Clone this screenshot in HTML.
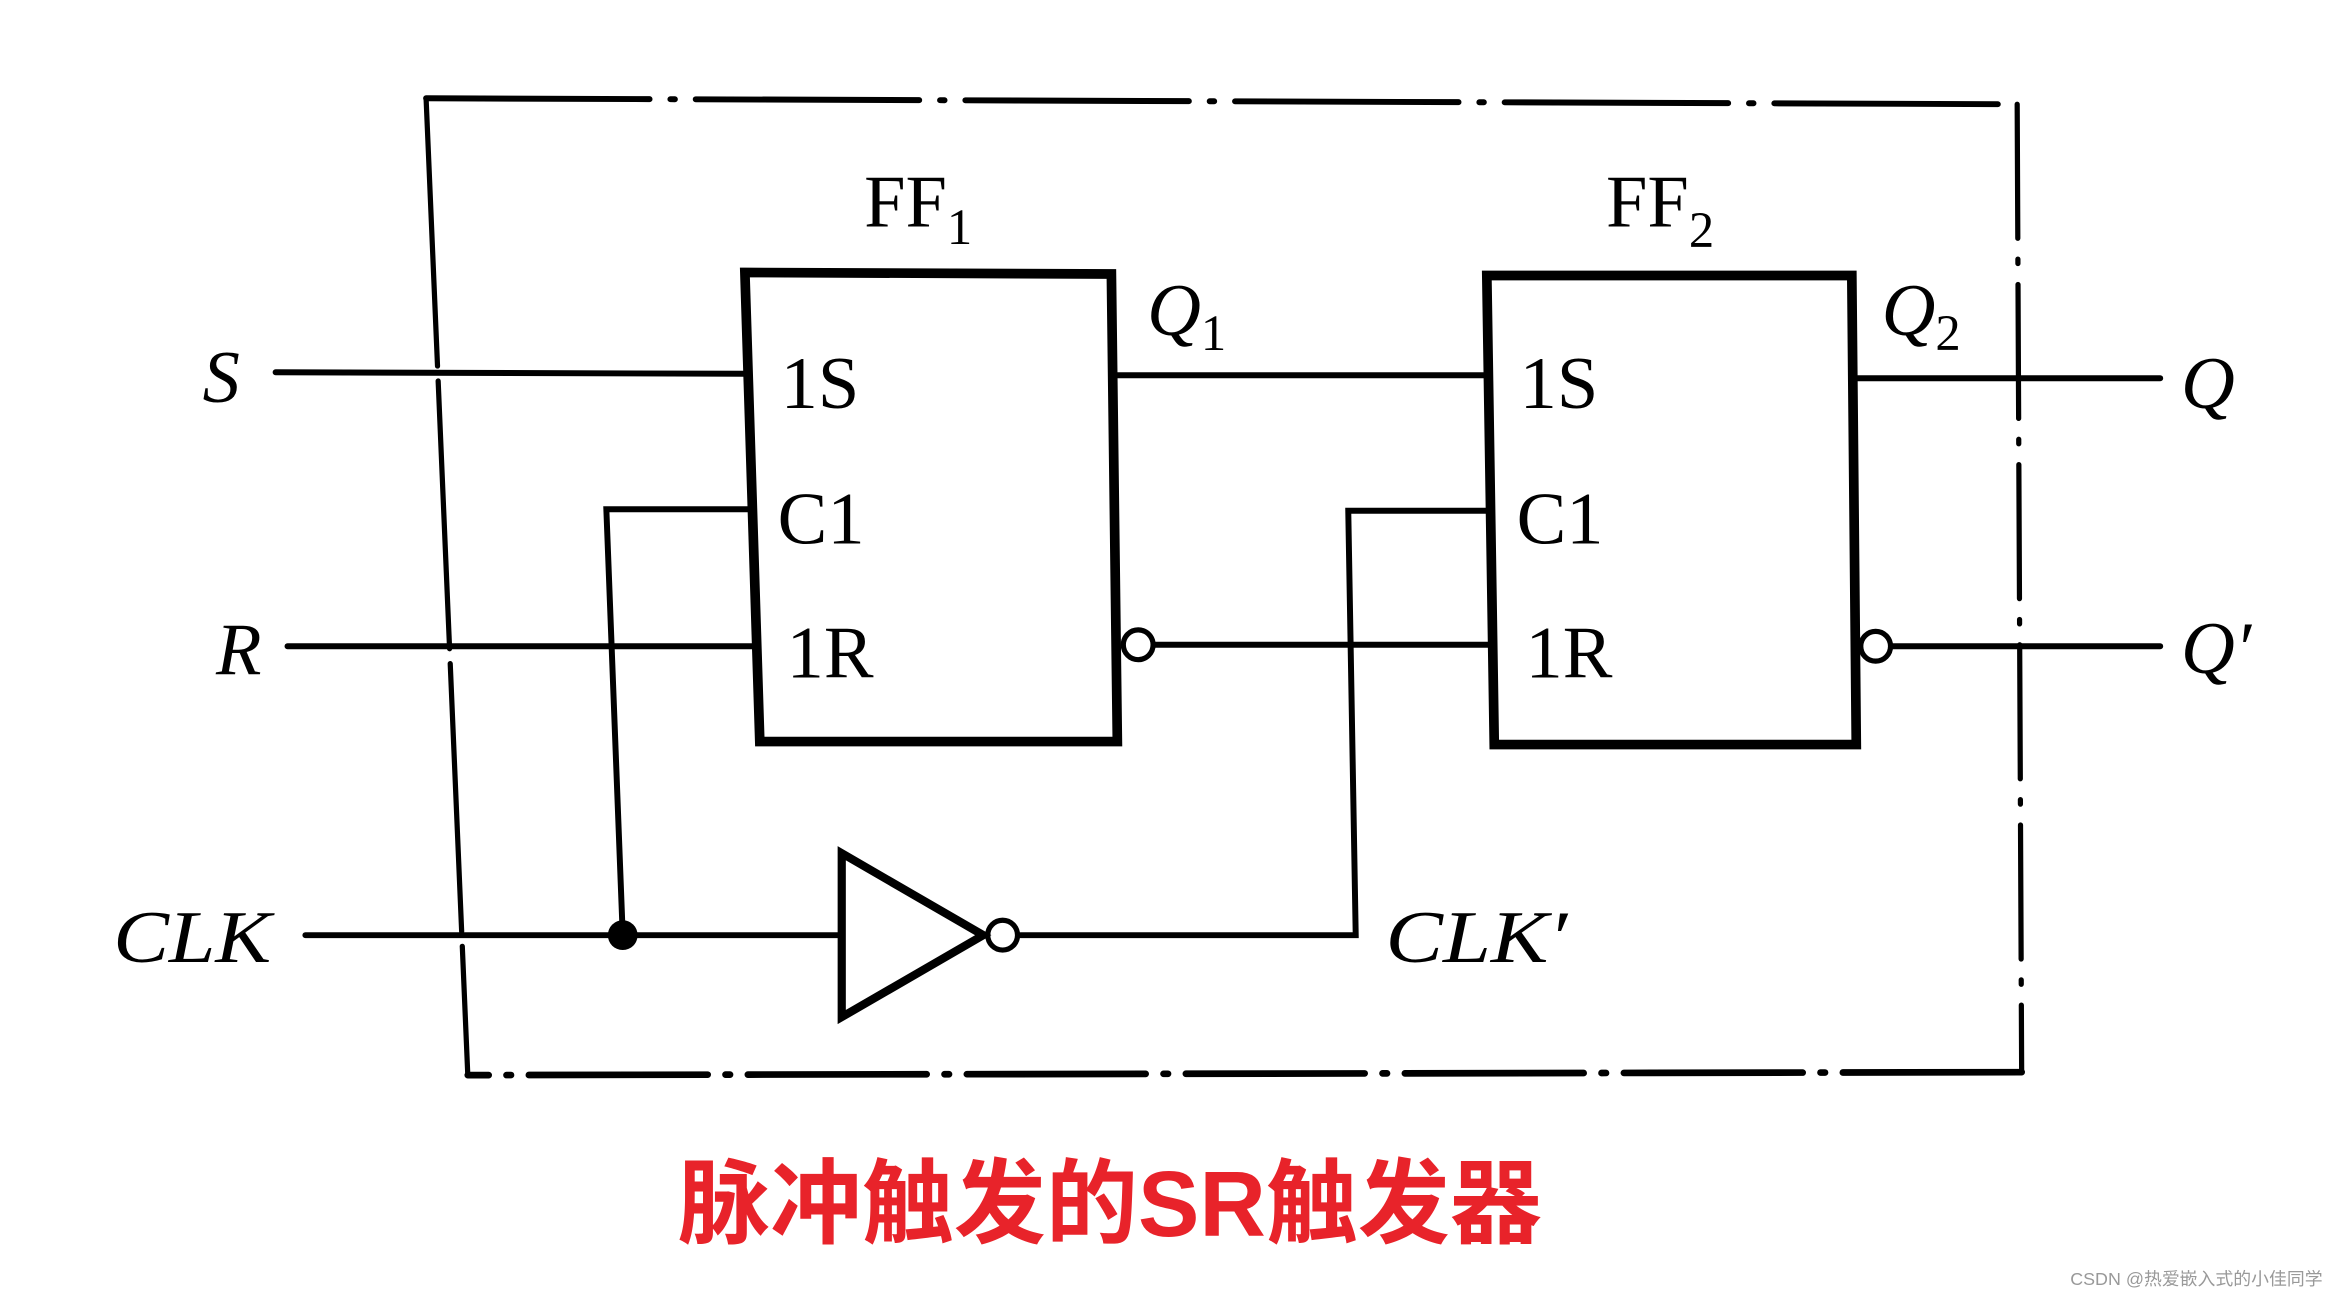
<!DOCTYPE html>
<html><head><meta charset="utf-8"><style>html,body{margin:0;padding:0;background:#fff;}svg{display:block}</style></head>
<body>
<svg width="2336" height="1300" viewBox="0 0 1568 873" preserveAspectRatio="none" xmlns="http://www.w3.org/2000/svg">
<rect width="1568" height="873" fill="#fff"/>
<g stroke="#000" fill="none" stroke-linecap="round">
<path d="M286,66 L1354,70" stroke-width="4" stroke-dasharray="150,14,3,14"/>
<path d="M1354,70 L1357,720" stroke-width="3.5" stroke-dasharray="90,14,3,14"/>
<path d="M1357,720 L314,722" stroke-width="4.5" stroke-dasharray="120,12,3,12"/>
<path d="M286,66 L314,722" stroke-width="3.5" stroke-dasharray="180,10"/>
<path d="M500,183 L746,184 L750,498 L510,498 Z" stroke-width="6.5" stroke-linejoin="miter"/>
<path d="M998,185 L1243,185 L1246,500 L1003,500 Z" stroke-width="6.5"/>
<g stroke-width="4">
<path d="M185,250 L500,251"/>
<path d="M193,434 L505,434"/>
<path d="M205,628 L565,628"/>
<path d="M502,342 L407,342 L418,628"/>
<path d="M685,628 L910,628 L905,343 L999,343"/>
<path d="M750,252 L998,252"/>
<path d="M775,433 L1002,433"/>
<path d="M1247,254 L1450,254"/>
<path d="M1270,434 L1450,434"/>
</g>
<path d="M565,573 L565,683 L660,628 Z" stroke-width="5.5" stroke-linejoin="miter"/>
<circle cx="673" cy="628" r="10" stroke-width="3.5"/>
<circle cx="764" cy="433" r="10" stroke-width="3.5"/>
<circle cx="1259" cy="434" r="10" stroke-width="3.5"/>
</g>
<circle cx="418" cy="628" r="10" fill="#000"/>
<g font-family="Liberation Serif, serif" fill="#000" font-size="50">
<text x="580" y="152">FF<tspan font-size="34" dy="12">1</tspan></text>
<text x="1078" y="152">FF<tspan font-size="34" dy="14">2</tspan></text>
<text x="524" y="274">1S</text>
<text x="522" y="365">C1</text>
<text x="528" y="455">1R</text>
<text x="1020" y="274">1S</text>
<text x="1018" y="365">C1</text>
<text x="1024" y="455">1R</text>
<g font-style="italic">
<text x="136" y="270">S</text>
<text x="145" y="453">R</text>
<text x="76" y="646" textLength="106" lengthAdjust="spacingAndGlyphs">CLK</text>
<text x="930" y="646" textLength="122" lengthAdjust="spacingAndGlyphs">CLK′</text>
<text x="770" y="225">Q<tspan font-size="34" font-style="normal" dy="10">1</tspan></text>
<text x="1263" y="225">Q<tspan font-size="34" font-style="normal" dy="10">2</tspan></text>
<text x="1464" y="274">Q</text>
<text x="1464" y="452">Q′</text>
</g>
</g>
<text x="745" y="830" text-anchor="middle" font-family="Liberation Sans, Noto Sans CJK SC, sans-serif" font-size="62" font-weight="bold" fill="#e8232a" textLength="580" lengthAdjust="spacingAndGlyphs">脉冲触发的SR触发器</text>
<text x="1559" y="863" text-anchor="end" font-family="Liberation Sans, Noto Sans CJK SC, sans-serif" font-size="12" fill="#999">CSDN @热爱嵌入式的小佳同学</text>
</svg>
</body></html>
